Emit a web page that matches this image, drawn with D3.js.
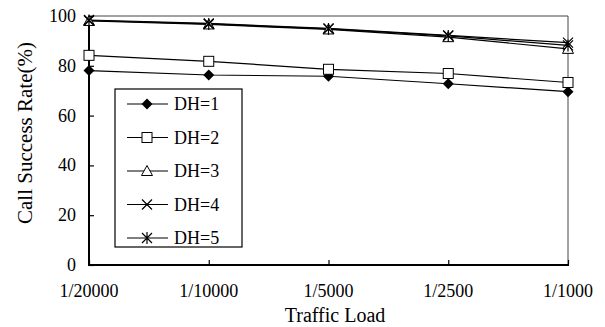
<!DOCTYPE html>
<html><head><meta charset="utf-8">
<script src="https://cdn.jsdelivr.net/npm/d3@7/dist/d3.min.js"></script>
<style>body{margin:0;background:#fff} text{font-family:"Liberation Serif","Times New Roman",Times,serif}</style>
</head><body>
<svg id="c" width="605" height="327"></svg>
<script>
const categories = ["1/20000","1/10000","1/5000","1/2500","1/1000"];
const seriesNames = ["DH=1","DH=2","DH=3","DH=4","DH=5"];
const dh1 = [78.1, 76.3, 75.8, 72.8, 69.6];
const dh2 = [84.2, 81.8, 78.6, 76.9, 73.3];
const dh3 = [98.0, 96.6, 94.6, 91.5, 86.8];
const dh4 = [98.4, 97.0, 95.0, 92.2, 89.3];
const dh5 = [98.2, 96.8, 94.8, 92.0, 88.2];
const yTicks = [0,20,40,60,80,100];
const markers = ["diamond","square","triangle","x","star"];
const series = [dh1,dh2,dh3,dh4,dh5];

const svg = d3.select("#c");
const L=89, R=568, T=16, B=265;
const x = d3.scalePoint().domain(categories).range([L,R]);
const y = d3.scaleLinear().domain([0,100]).range([B,T]);

svg.append("line").attr("x1",L).attr("x2",R).attr("y1",T).attr("y2",T).attr("stroke","#444").attr("stroke-width",1);
svg.append("line").attr("x1",R).attr("x2",R).attr("y1",T).attr("y2",B).attr("stroke","#444").attr("stroke-width",1);

const ya = svg.append("g").attr("transform",`translate(${L},0)`)
  .call(d3.axisRight(y).tickValues(yTicks).tickSize(5).tickFormat(d=>d));
ya.select(".domain").remove();
ya.selectAll("text").remove();
ya.selectAll("line").attr("stroke","#000").attr("stroke-width",1.2);
svg.selectAll(".yl").data(yTicks).enter().append("text")
  .attr("x",L-13).attr("y",d=>y(d)+6).attr("text-anchor","end")
  .attr("font-size",18).text(d=>d);

const xa = svg.append("g").attr("transform",`translate(0,${B})`)
  .call(d3.axisTop(x).tickSize(5));
xa.select(".domain").remove();
xa.selectAll("text").remove();
xa.selectAll("line").attr("stroke","#000").attr("stroke-width",1.2);
svg.selectAll(".xl").data(categories).enter().append("text")
  .attr("x",d=>x(d)).attr("y",B+32).attr("text-anchor","middle")
  .attr("font-size",18).text(d=>d);

svg.append("line").attr("x1",L).attr("x2",L).attr("y1",T).attr("y2",B+1).attr("stroke","#000").attr("stroke-width",2);
svg.append("line").attr("x1",L-1).attr("x2",R+1).attr("y1",B).attr("y2",B).attr("stroke","#000").attr("stroke-width",2);

svg.append("text").attr("x",335).attr("y",322).attr("text-anchor","middle")
  .attr("font-size",20).text("Traffic Load");
svg.append("text").attr("transform",`translate(32,133) rotate(-90)`).attr("text-anchor","middle")
  .attr("font-size",21).text("Call Success Rate(%)");

function marker(g, type, cx, cy){
  if(type==="diamond"){
    g.append("path").attr("d",`M${cx},${cy-5.5}L${cx+5.5},${cy}L${cx},${cy+5.5}L${cx-5.5},${cy}Z`).attr("fill","#000");
  } else if(type==="square"){
    g.append("rect").attr("x",cx-5).attr("y",cy-5).attr("width",10).attr("height",10).attr("fill","#fff").attr("stroke","#000").attr("stroke-width",1);
  } else if(type==="triangle"){
    g.append("path").attr("d",`M${cx},${cy-5.5}L${cx+5.5},${cy+4.5}L${cx-5.5},${cy+4.5}Z`).attr("fill","#fff").attr("stroke","#000").attr("stroke-width",1);
  } else if(type==="x"){
    g.append("path").attr("d",`M${cx-5},${cy-5}L${cx+5},${cy+5}M${cx-5},${cy+5}L${cx+5},${cy-5}`).attr("stroke","#000").attr("stroke-width",1.2);
  } else if(type==="star"){
    g.append("path").attr("d",`M${cx-5},${cy-5}L${cx+5},${cy+5}M${cx-5},${cy+5}L${cx+5},${cy-5}M${cx},${cy-6}L${cx},${cy+6}`).attr("stroke","#000").attr("stroke-width",1.2);
  }
}

const line = d3.line().x((d,i)=>x(categories[i])).y(d=>y(d));
series.forEach((s)=>{
  svg.append("path").attr("d",line(s)).attr("fill","none").attr("stroke","#000").attr("stroke-width",1.2);
});
series.forEach((s,k)=>{
  const g = svg.append("g");
  s.forEach((v,i)=>marker(g, markers[k], x(categories[i]), y(v)));
});

const lg = svg.append("g");
lg.append("rect").attr("x",115).attr("y",89).attr("width",127).attr("height",158).attr("fill","#fff").attr("stroke","#000").attr("stroke-width",1.2);
seriesNames.forEach((n,k)=>{
  const cy = 104 + k*33.5;
  lg.append("line").attr("x1",127).attr("x2",168).attr("y1",cy).attr("y2",cy).attr("stroke","#000").attr("stroke-width",1.2);
  marker(lg, markers[k], 147, cy);
  lg.append("text").attr("x",174).attr("y",cy+6).attr("font-size",18).text(n);
});
</script>
</body></html>
